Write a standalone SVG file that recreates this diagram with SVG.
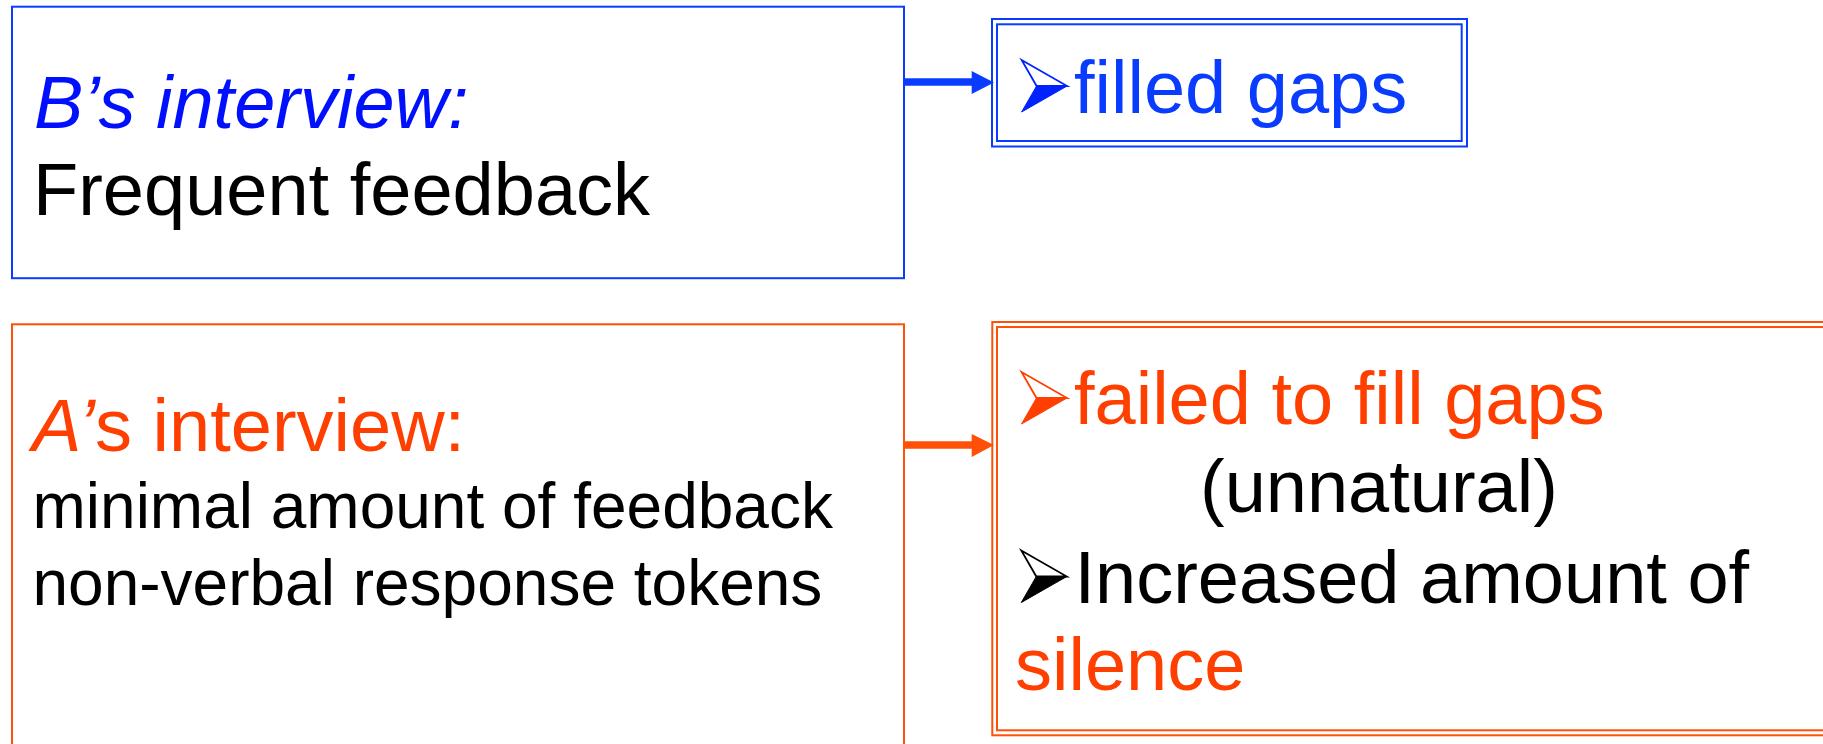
<svg xmlns="http://www.w3.org/2000/svg" xmlns:xlink="http://www.w3.org/1999/xlink" width="1823" height="744" viewBox="0 0 1823 744">
  <style>
    text { font-family: "Liberation Sans", Arial, sans-serif; }
    .big { font-size: 74px; }
    .small { font-size: 64px; }
    .blue { fill: #0A3CFF; }
    .bluet { fill: #0010FF; }
    .orange { fill: #FF3F00; }
    .black { fill: #000000; }
    .bbox { fill: none; stroke: #0A3CFF; stroke-width: 2; }
    .obox { fill: none; stroke: #FF5008; stroke-width: 2; }
  </style>
  <defs>
    <g id="bullet">
      <polygon points="0,0 45.5,26 15,26" fill="#FFFFFF" stroke="currentColor" stroke-width="1.8" stroke-linejoin="miter"/>
      <polygon points="15,26 45.5,26 0,52" fill="currentColor" stroke="currentColor" stroke-width="1"/>
    </g>
  </defs>
  <rect width="1823" height="744" fill="#FFFFFF"/>

  <g id="node-b-interview">
    <rect class="bbox" x="12" y="6.7" width="892" height="271.5"/>
    <text class="big bluet" x="34" y="128" font-style="italic">B’s interview:</text>
    <text class="big black" x="33" y="215">Frequent feedback</text>
  </g>

  <g id="node-filled-gaps">
    <rect class="bbox" x="992" y="19" width="475" height="127.5" stroke-width="2.3"/>
    <rect class="bbox" x="997" y="24.3" width="464.7" height="116.7"/>
    <use xlink:href="#bullet" href="#bullet" x="1021.6" y="60" style="color:#0022FF"/>
    <text class="big blue" x="1074" y="113">filled gaps</text>
  </g>

  <g id="node-a-interview">
    <rect class="obox" x="12" y="324.3" width="892" height="500"/>
    <text class="big orange" x="32" y="451"><tspan font-style="italic">A’</tspan>s interview:</text>
    <text class="small black" x="32.5" y="528">minimal amount of feedback</text>
    <text class="small black" x="32.5" y="605">non-verbal response tokens</text>
  </g>

  <g id="node-failed">
    <rect class="obox" x="992.3" y="322" width="900" height="413.3" stroke-width="2.7"/>
    <rect class="obox" x="997" y="327" width="900" height="403.3"/>
    <use xlink:href="#bullet" href="#bullet" x="1021.5" y="372" style="color:#FF3F00"/>
    <text class="big orange" x="1074" y="424">failed to fill gaps</text>
    <text class="big black" x="1200" y="512">(unnatural)</text>
    <use xlink:href="#bullet" href="#bullet" x="1021.3" y="550.5" style="color:#000000"/>
    <text class="big black" x="1074.5" y="603">Increased amount of</text>
    <text class="big orange" x="1015" y="690">silence</text>
  </g>

  <g id="connectors">
    <line x1="905" y1="82" x2="973" y2="82" stroke="#0A3CFF" stroke-width="7.5"/>
    <polygon points="971.7,71 994,82.5 971.7,94" fill="#0A3CFF"/>
    <line x1="905" y1="445" x2="973" y2="445" stroke="#FF5008" stroke-width="7.5"/>
    <polygon points="971.7,434 994,445 971.7,457" fill="#FF5008"/>
  </g>
</svg>
